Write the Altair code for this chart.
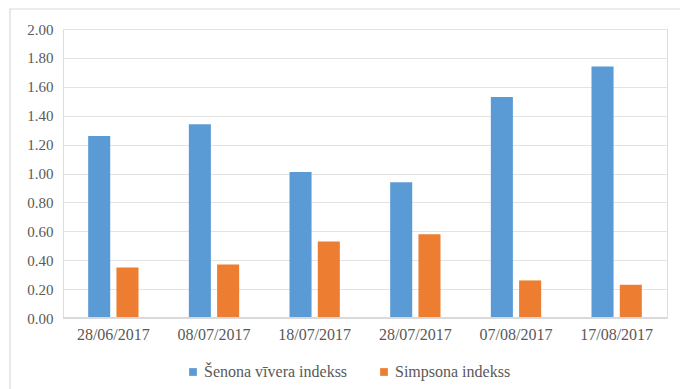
import altair as alt
import pandas as pd

dates = ["28/06/2017", "08/07/2017", "18/07/2017", "28/07/2017", "07/08/2017", "17/08/2017"]
series_names = ["Šenona vīvera indekss", "Simpsona indekss"]
shannon = [1.26, 1.34, 1.01, 0.94, 1.53, 1.74]
simpson = [0.35, 0.37, 0.53, 0.58, 0.26, 0.23]
y_ticks = [0.0, 0.2, 0.4, 0.6, 0.8, 1.0, 1.2, 1.4, 1.6, 1.8, 2.0]
colors = ["#5b9bd5", "#ed7d31"]

rows = []
for d, a, b in zip(dates, shannon, simpson):
    rows.append({"date": d, "series": series_names[0], "value": a})
    rows.append({"date": d, "series": series_names[1], "value": b})
df = pd.DataFrame(rows)
df_dates = pd.DataFrame({"date": dates})

FONT = "Liberation Serif"
W, H = 604, 289

xscale = alt.Scale(domain=dates, paddingInner=0.5, paddingOuter=0.25)

bars = alt.Chart(df).mark_bar().encode(
    x=alt.X("date:N", sort=dates, title=None, scale=xscale, axis=None),
    xOffset=alt.XOffset("series:N", sort=series_names,
                        scale=alt.Scale(paddingInner=0.22)),
    y=alt.Y("value:Q", title=None,
            scale=alt.Scale(domain=[0, 2]),
            axis=alt.Axis(values=y_ticks, format=".2f", labelFont=FONT,
                          labelFontSize=15, labelColor="#595959",
                          domain=False, ticks=False, labelPadding=10,
                          gridColor="#e3e3e3")),
    color=alt.Color("series:N", sort=series_names,
                    scale=alt.Scale(domain=series_names, range=colors),
                    legend=alt.Legend(title=None, orient="none", direction="horizontal",
                                      legendX=122, legendY=335,
                                      symbolType="square", symbolSize=60,
                                      labelFont=FONT, labelFontSize=16, labelOffset=3,
                                      labelColor="#595959", columnPadding=28,
                                      symbolStrokeWidth=0)),
)

xlabels = alt.Chart(df_dates).mark_text(
    font=FONT, fontSize=16, color="#595959", baseline="top", align="center"
).encode(
    x=alt.X("date:N", sort=dates, scale=xscale, axis=None),
    y=alt.value(H + 9),
    text="date:N",
)

baseline = alt.Chart(df_dates).mark_rule(color="#d9d9d9", strokeWidth=1).encode(
    x=alt.value(0), x2=alt.value(W), y=alt.value(H)
)

frame = alt.Chart(pd.DataFrame({"k": [0]})).mark_rect(
    fill=None, stroke="#d9d9d9", strokeWidth=1.2, clip=False
).encode(
    x=alt.value(-53), x2=alt.value(W + 40),
    y=alt.value(-20), y2=alt.value(H + 80),
)

chart = alt.layer(frame, bars, baseline, xlabels).properties(
    width=W, height=H,
    autosize=alt.AutoSizeParams(type="none"),
    padding={"left": 63, "top": 29, "right": 13, "bottom": 71},
).configure_view(stroke=None).configure(background="white", font=FONT)

chart.save("out.html", embed_options={"renderer": "svg", "actions": False})
